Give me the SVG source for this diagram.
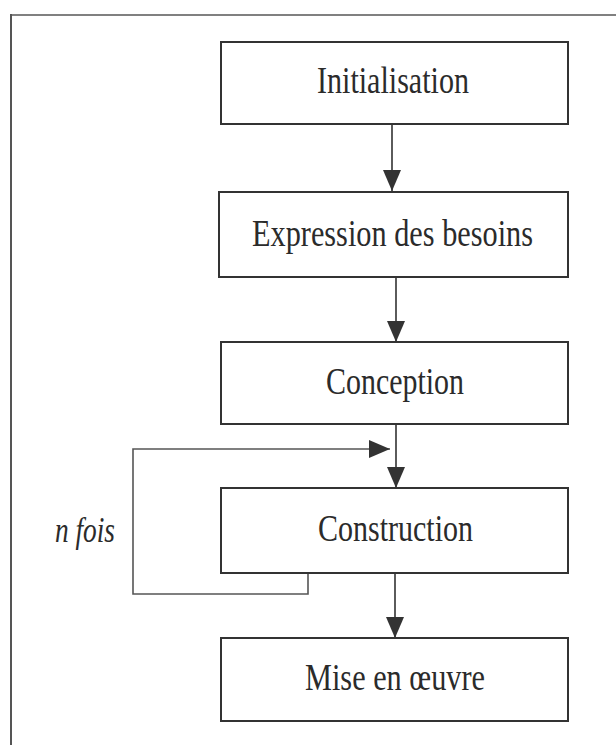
<svg xmlns="http://www.w3.org/2000/svg" width="616" height="745" viewBox="0 0 616 745">
  <style>
    .box { fill: #ffffff; stroke: #333333; stroke-width: 2; }
    .label { font-family: "Liberation Serif", "Times New Roman", serif; font-size: 37px; fill: #2b2b2b; text-anchor: middle; }
    .note { font-family: "Liberation Serif", "Times New Roman", serif; font-size: 36px; font-style: italic; fill: #2b2b2b; }
    .link { fill: none; stroke: #333333; stroke-width: 1.6; }
    .loop { fill: none; stroke: #555555; stroke-width: 1.6; }
  </style>
  <defs>
    <marker id="arrow" markerUnits="userSpaceOnUse" markerWidth="22" markerHeight="20" refX="21" refY="10" orient="auto">
      <path d="M0,1 L21,10 L0,19 z" fill="#333333"/>
    </marker>
  </defs>

  <rect x="0" y="0" width="616" height="745" fill="#ffffff"/>

  <!-- frame -->
  <g id="frame">
    <line x1="10" y1="15" x2="616" y2="15" stroke="#808080" stroke-width="2"/>
    <line x1="11" y1="14" x2="11" y2="745" stroke="#555555" stroke-width="2"/>
  </g>

  <!-- connectors -->
  <g id="connectors">
    <line class="link" x1="392" y1="124" x2="392" y2="191" marker-end="url(#arrow)"/>
    <line class="link" x1="396" y1="277" x2="396" y2="342" marker-end="url(#arrow)"/>
    <line class="link" x1="396" y1="424" x2="396" y2="488" marker-end="url(#arrow)"/>
    <line class="link" x1="395" y1="573" x2="395" y2="638" marker-end="url(#arrow)"/>
    <path class="loop" d="M308,573 V594 H133 V449 H390" marker-end="url(#arrow)"/>
  </g>

  <g id="initialisation">
    <rect class="box" x="221" y="42" width="347" height="82"/>
    <text class="label" x="393" y="93" textLength="152" lengthAdjust="spacingAndGlyphs">Initialisation</text>
  </g>

  <g id="expression">
    <rect class="box" x="219" y="192" width="349" height="85"/>
    <text class="label" x="392.5" y="246" textLength="281" lengthAdjust="spacingAndGlyphs">Expression des besoins</text>
  </g>

  <g id="conception">
    <rect class="box" x="221" y="342" width="347" height="82"/>
    <text class="label" x="395" y="394" textLength="138" lengthAdjust="spacingAndGlyphs">Conception</text>
  </g>

  <g id="construction">
    <rect class="box" x="221" y="488" width="347" height="85"/>
    <text class="label" x="395.5" y="541" textLength="155" lengthAdjust="spacingAndGlyphs">Construction</text>
  </g>

  <g id="mise-en-oeuvre">
    <rect class="box" x="221" y="638" width="347" height="83"/>
    <text class="label" x="395" y="690" textLength="180" lengthAdjust="spacingAndGlyphs">Mise en œuvre</text>
  </g>

  <g id="n-fois">
    <text class="note" x="55" y="542" textLength="60" lengthAdjust="spacingAndGlyphs">n fois</text>
  </g>
</svg>
